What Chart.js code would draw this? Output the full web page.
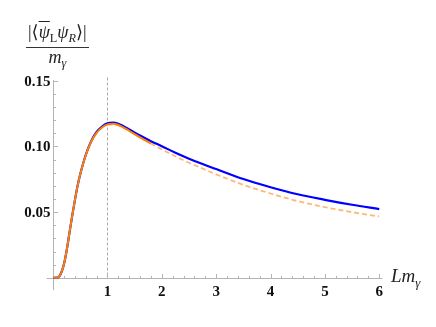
<!DOCTYPE html>
<html>
<head>
<meta charset="utf-8">
<script src="https://cdn.jsdelivr.net/npm/chart.js@4.4.1/dist/chart.umd.min.js"></script>
<style>
  html,body{margin:0;padding:0;background:#fff;}
  #wrap{position:relative;width:436px;height:327px;}
  canvas{position:absolute;left:0;top:0;}
  .lbl{position:absolute;font-family:"Liberation Serif","DejaVu Serif",serif;color:#222;white-space:nowrap;}
  .it{font-style:italic;}
  sub{font-size:68%;vertical-align:baseline;position:relative;top:0.35em;}
  .frac{left:26px;top:21px;font-size:18px;text-align:center;}
  .num{padding:0 2px 1px 2px;border-bottom:1px solid #333;line-height:23px;}
  .den{line-height:19px;}
  .bar{text-decoration:overline;}
  .xl{left:391px;top:265px;font-size:19px;}
</style>
</head>
<body>
<div id="wrap">
  <canvas id="c" width="436" height="327"></canvas>
  <div class="lbl frac">
    <div class="num">|⟨<span class="it bar">ψ</span><sub>L</sub><span class="it">ψ</span><sub class="it">R</sub>⟩|</div>
    <div class="den"><span class="it">m</span><sub class="it">γ</sub></div>
  </div>
  <div class="lbl xl"><span class="it">Lm</span><sub class="it">γ</sub></div>
</div>
<script>
// values
const xBlue = [0,0.08,0.12,0.16,0.2,0.25,0.3,0.35,0.4,0.45,0.5,0.6,0.7,0.8,0.9,1.0,1.1,1.2,1.4,1.6,1.8,2.0,2.25,2.5,2.75,3.0,3.5,4.0,4.5,5.0,5.5,6.0];
const yBlue = [0,0.0001,0.0015,0.005,0.0105,0.021,0.034,0.047,0.059,0.070,0.079,0.0935,0.1040,0.1110,0.1152,0.1176,0.1181,0.1172,0.1130,0.1083,0.1040,0.1002,0.0952,0.0907,0.0866,0.0828,0.0752,0.0690,0.0636,0.0594,0.0556,0.0523];
const xOrange = [0,0.08,0.12,0.16,0.2,0.25,0.3,0.35,0.4,0.45,0.5,0.6,0.7,0.8,0.9,1.0,1.1,1.2,1.4,1.6,1.8];
const yOrange = [0,0.0001,0.0015,0.005,0.0105,0.021,0.034,0.047,0.059,0.070,0.079,0.0933,0.1036,0.1104,0.1145,0.1168,0.1173,0.1163,0.1119,0.1069,0.1023];
const xDash = [1.0,1.2,1.4,1.6,1.8,2.0,2.25,2.5,2.75,3.0,3.5,4.0,4.5,5.0,5.5,6.0];
const yDash = [0.1168,0.1162,0.1118,0.1068,0.1022,0.0978,0.0925,0.0876,0.0832,0.0788,0.0708,0.0642,0.0584,0.0538,0.0500,0.0467];
const xTicks = [1,2,3,4,5,6];
const yTicks = [0.05,0.10,0.15];
const xMarker = 1;

const pts = (xs,ys) => xs.map((x,i)=>({x:x,y:ys[i]}));

// axes through the origin, Mathematica style
const axesPlugin = {
  id:'axes',
  beforeDatasetsDraw(chart){
    const ctx = chart.ctx, sx = chart.scales.x, sy = chart.scales.y;
    const x0 = sx.getPixelForValue(0), y0 = sy.getPixelForValue(0);
    ctx.save();
    // dashed marker line
    ctx.strokeStyle = '#aaa'; ctx.lineWidth = 1; ctx.setLineDash([3,2]);
    const xm = Math.round(sx.getPixelForValue(xMarker))+0.5;
    ctx.beginPath(); ctx.moveTo(xm, sy.getPixelForValue(0.1525)); ctx.lineTo(xm, y0); ctx.stroke();
    ctx.setLineDash([]);
    // axis lines
    ctx.strokeStyle = '#b4b4b4';
    const ya = Math.round(y0)+0.5, xa = Math.round(x0)+0.5;
    ctx.beginPath(); ctx.moveTo(sx.left, ya); ctx.lineTo(sx.right, ya); ctx.stroke();
    ctx.beginPath(); ctx.moveTo(xa, sy.bottom); ctx.lineTo(xa, sy.top); ctx.stroke();
    // minor + major ticks
    for(let v=0.2; v<=6.01; v+=0.2){
      const p = Math.round(sx.getPixelForValue(v))+0.5;
      const major = Math.abs(v-Math.round(v))<1e-6;
      ctx.beginPath(); ctx.moveTo(p, ya); ctx.lineTo(p, ya-(major?4.5:2.5)); ctx.stroke();
    }
    for(let v=0.01; v<=0.1501; v+=0.01){
      const p = Math.round(sy.getPixelForValue(v))+0.5;
      const major = Math.abs(v*20-Math.round(v*20))<1e-6;
      ctx.beginPath(); ctx.moveTo(xa, p); ctx.lineTo(xa+(major?4.5:2.5), p); ctx.stroke();
    }
    // tick labels
    ctx.fillStyle = '#111';
    ctx.font = 'bold 15px "Liberation Serif", serif';
    ctx.textAlign = 'center'; ctx.textBaseline = 'top';
    xTicks.forEach(v=>ctx.fillText(String(v), sx.getPixelForValue(v), ya+6));
    ctx.textAlign = 'right'; ctx.textBaseline = 'middle';
    yTicks.forEach(v=>ctx.fillText(v.toFixed(2), xa-3, sy.getPixelForValue(v)+1));
    ctx.restore();
  }
};

// dataset 0 is painted last (on top)
new Chart(document.getElementById('c'), {
  type:'scatter',
  data:{
    datasets:[
      {data:pts(xOrange,yOrange), showLine:true, borderColor:'#ff8000', borderWidth:2, pointRadius:0, cubicInterpolationMode:'monotone'},
      {data:pts(xBlue,yBlue), showLine:true, borderColor:'#0000ff', borderWidth:2.2, pointRadius:0, cubicInterpolationMode:'monotone'},
      {data:pts(xDash,yDash), showLine:true, borderColor:'rgba(255,170,90,0.85)', borderWidth:1.8, borderDash:[5,3], pointRadius:0, cubicInterpolationMode:'monotone'}
    ]
  },
  options:{
    responsive:false, animation:false, events:[],
    layout:{padding:{left:46.6, right:436-382.5, top:80, bottom:327-290.3}},
    plugins:{legend:{display:false}, tooltip:{enabled:false}},
    scales:{
      x:{type:'linear', min:-0.12, max:6.06, display:false},
      y:{type:'linear', min:-0.0095, max:0.1506, display:false}
    }
  },
  plugins:[axesPlugin]
});
</script>
</body>
</html>
